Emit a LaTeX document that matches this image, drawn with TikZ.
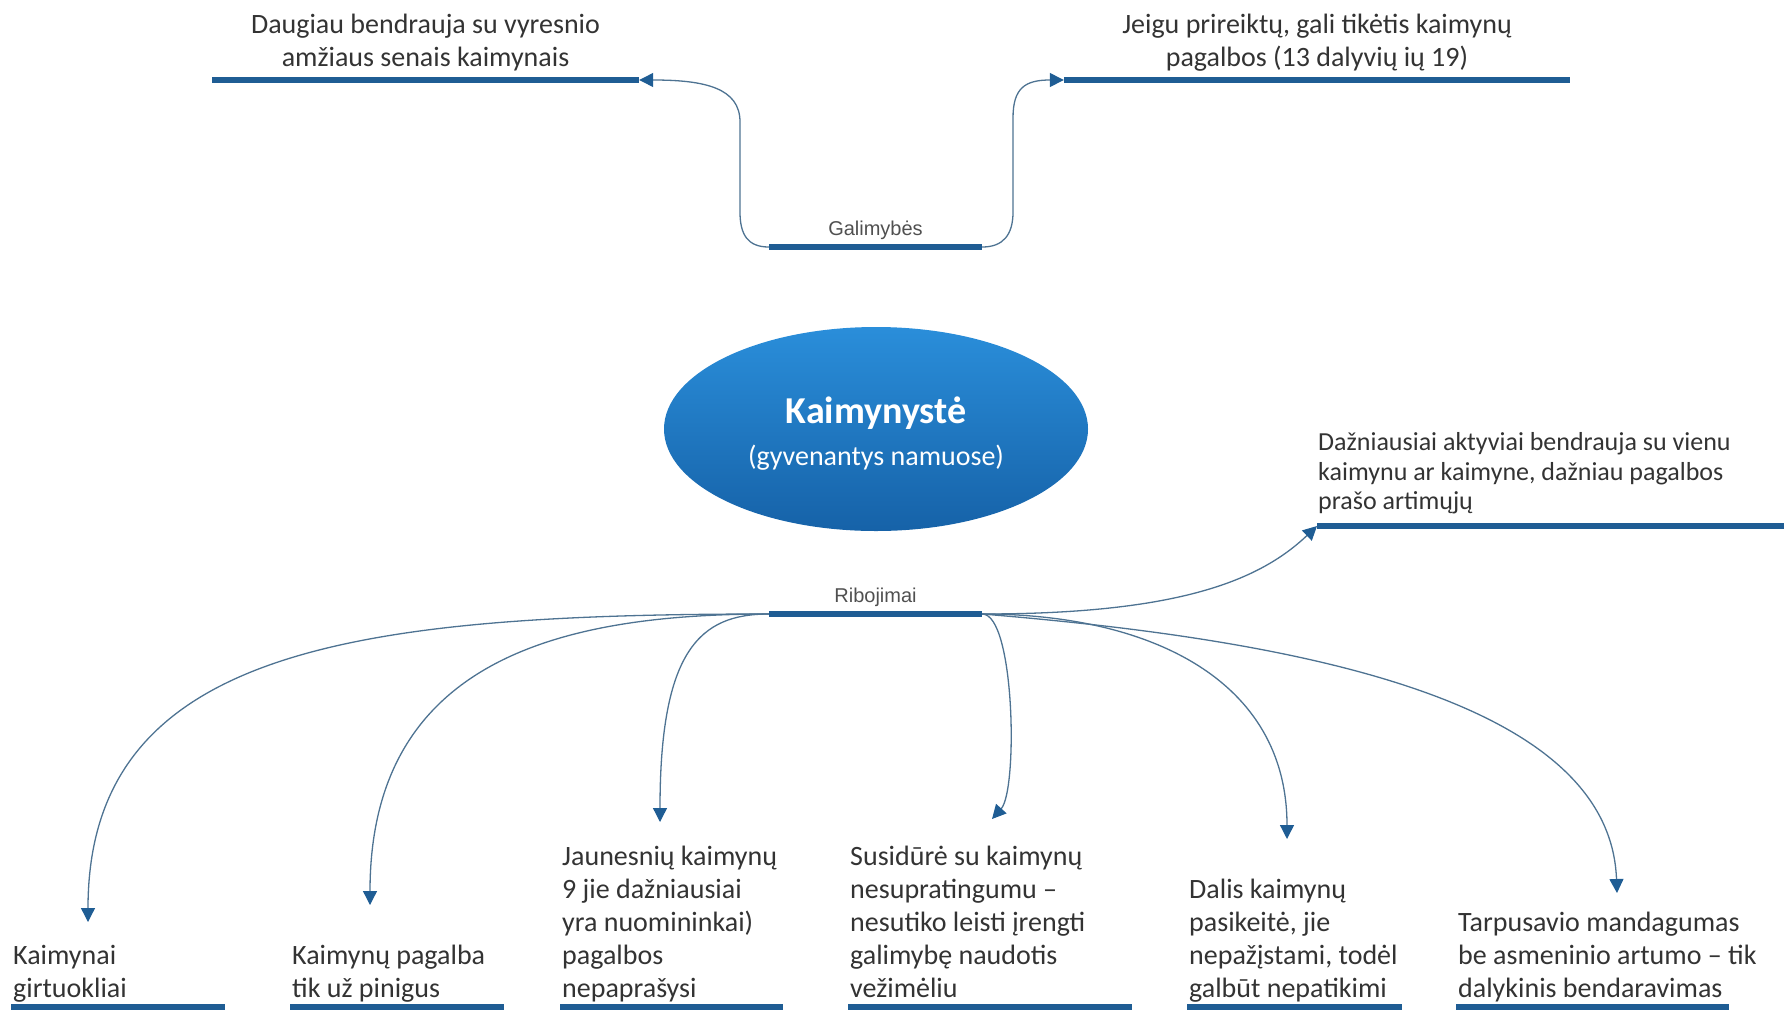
\documentclass[tikz,border=0pt]{standalone}
\usepackage{fontspec}
\setmainfont{Carlito}
\newfontfamily\labfont{Liberation Sans}
\usetikzlibrary{positioning, arrows.meta, shapes.geometric}
\definecolor{barblue}{RGB}{31,93,148}
\definecolor{linkblue}{RGB}{78,115,146}
\definecolor{txtgray}{RGB}{51,51,51}
\definecolor{labgray}{RGB}{80,80,80}
\definecolor{elltop}{RGB}{42,142,218}
\definecolor{ellbot}{RGB}{22,98,168}
\tikzset{
  bar/.style={rectangle, fill=barblue, minimum height=6.5pt, inner sep=0pt},
  txt/.style={text=txtgray, inner sep=0pt, font=\fontsize{28}{33}\selectfont, text depth=7pt},
  lab/.style={text=labgray, inner sep=0pt, font=\labfont\fontsize{20}{24}\selectfont},
  hub/.style={ellipse, minimum width=424pt, minimum height=204pt, top color=elltop, bottom color=ellbot, draw=none},
  ttl/.style={text=white, font=\bfseries\fontsize{38}{44}\selectfont},
  sub/.style={text=white, font=\fontsize{28}{33}\selectfont},
  link/.style={draw=linkblue, line width=1.3pt, -{Triangle[length=14pt, width=14pt, color=barblue]}},
  node distance=1cm
}

\begin{document}
\begin{tikzpicture}[x=1pt, y=-1pt]
    \useasboundingbox (0,0) rectangle (1784,1010);

    % centre
    \node[hub] (kaim) at (876,429) {};
    \node[ttl, anchor=base] (kaimt) at (876,423) {Kaimynystė};
    \node[sub, anchor=base] (kaims) at (876,465) {(gyvenantys namuose)};

    % branches
    \node[bar, minimum width=213pt] (galb) at (875.5,247) {};
    \node[lab, above=4pt of galb] (galt) {Galimybės};
    \node[bar, minimum width=213pt] (ribb) at (875.5,614) {};
    \node[lab, above=4pt of ribb] (ribt) {Ribojimai};

    % opportunities
    \node[bar, minimum width=427pt] (tlb) at (425.5,80) {};
    \node[txt, align=center, above=2.5pt of tlb] (tlt) {Daugiau bendrauja su vyresnio\\amžiaus senais kaimynais};
    \node[bar, minimum width=506pt] (trb) at (1317,80) {};
    \node[txt, align=center, above=2.5pt of trb] (trt) {Jeigu prireiktų, gali tikėtis kaimynų\\pagalbos (13 dalyvių ių 19)};

    % limits
    \node[bar, minimum width=480pt, anchor=west] (mrb) at (1317,526) {};
    \node[txt, font=\fontsize{26}{29.6}\selectfont, text depth=6pt, align=left, anchor=south west] (mrt)
        at ([xshift=1pt,yshift=6.5pt]mrb.north west) {Dažniausiai aktyviai bendrauja su vienu\\kaimynu ar kaimyne, dažniau pagalbos\\prašo artimųjų};

    \node[bar, minimum width=214pt, anchor=west] (b1) at (11,1007) {};
    \node[bar, minimum width=214pt, anchor=west] (b2) at (290,1007) {};
    \node[bar, minimum width=223pt, anchor=west] (b3) at (560,1007) {};
    \node[bar, minimum width=284pt, anchor=west] (b4) at (848,1007) {};
    \node[bar, minimum width=215pt, anchor=west] (b5) at (1187,1007) {};
    \node[bar, minimum width=273pt, anchor=west] (b6) at (1456,1007) {};

    \node[txt, align=left, anchor=south west] (t1) at ([xshift=2pt,yshift=-1pt]b1.north west) {Kaimynai\\girtuokliai};
    \node[txt, align=left, anchor=south west] (t2) at ([xshift=2pt,yshift=-1pt]b2.north west) {Kaimynų pagalba\\tik už pinigus};
    \node[txt, align=left, anchor=south west] (t3) at ([xshift=2pt,yshift=-1pt]b3.north west) {Jaunesnių kaimynų\\9 jie dažniausiai\\yra nuomininkai)\\pagalbos\\nepaprašysi};
    \node[txt, align=left, anchor=south west] (t4) at ([xshift=2pt,yshift=-1pt]b4.north west) {Susidūrė su kaimynų\\nesupratingumu –\\nesutiko leisti įrengti\\galimybę naudotis\\vežimėliu};
    \node[txt, align=left, anchor=south west] (t5) at ([xshift=2pt,yshift=-1pt]b5.north west) {Dalis kaimynų\\pasikeitė, jie\\nepažįstami, todėl\\galbūt nepatikimi};
    \node[txt, align=left, anchor=south west] (t6) at ([xshift=2pt,yshift=-1pt]b6.north west) {Tarpusavio mandagumas\\be asmeninio artumo – tik\\dalykinis bendaravimas};

    \coordinate (a1) at (88,922);
    \coordinate (a2) at (370,905);
    \coordinate (a3) at (660,822);
    \coordinate (a4) at (992,819);
    \coordinate (a5) at (1287,839);
    \coordinate (a6) at (1617,893);

    % connectors
    \draw[link] (galb.west) .. controls (748,247) and (740,235) .. (740,212) -- (740,122)
                .. controls (740,88) and (705,80) .. (tlb.east);
    \draw[link] (galb.east) .. controls (1003,247) and (1013,235) .. (1013,212) -- (1013,118)
                .. controls (1013,88) and (1025,80) .. (trb.west);

    \draw[link] (ribb.west) .. controls (350,614) and (88,650) .. (a1);
    \draw[link] (ribb.west) .. controls (560,614) and (370,660) .. (a2);
    \draw[link] (ribb.west) .. controls (700,614) and (660,650) .. (a3);
    \draw[link] (ribb.east) .. controls (1015,614) and (1018,790) .. (a4);
    \draw[link] (ribb.east) .. controls (1150,614) and (1287,680) .. (a5);
    \draw[link] (ribb.east) .. controls (1300,640) and (1610,700) .. (a6);
    \draw[link] (ribb.east) .. controls (1180,614) and (1260,580) .. (mrb.west);
\end{tikzpicture}
\end{document}
